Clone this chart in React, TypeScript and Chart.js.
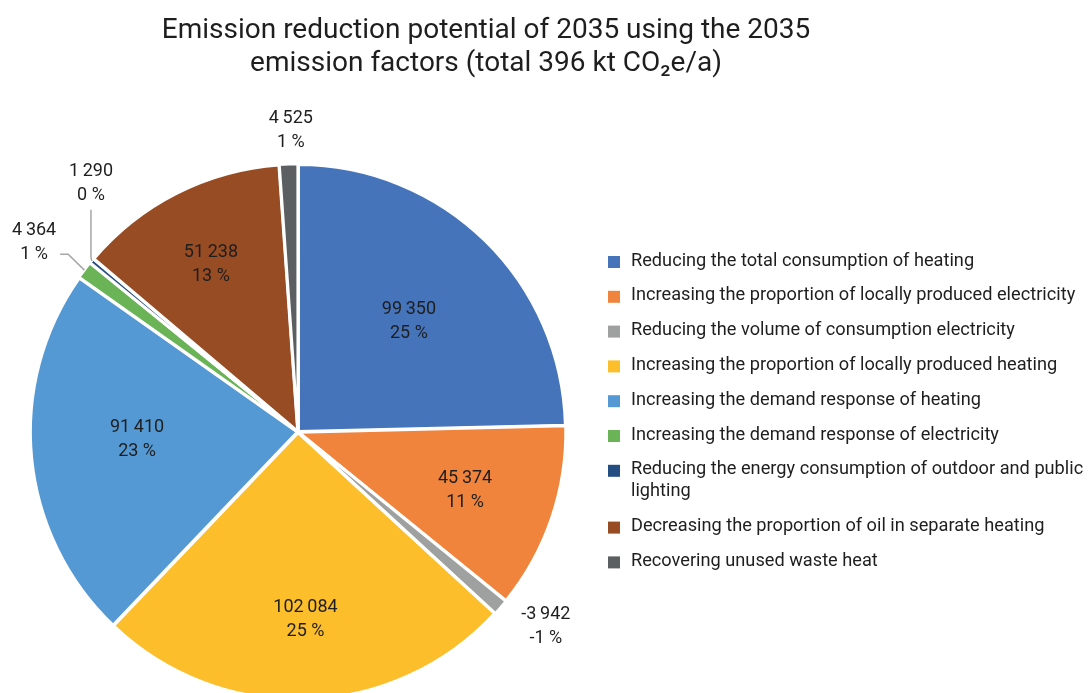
import React, { useEffect, useRef } from 'react';
import { Chart, registerables } from 'chart.js';

Chart.register(...registerables);

// ---------- data ----------
const titleLines = [
  'Emission reduction potential of 2035 using the 2035',
  'emission factors (total 396 kt CO\u2082e/a)',
];

const categories = [
  'Reducing the total consumption of heating',
  'Increasing the proportion of locally produced electricity',
  'Reducing the volume of consumption electricity',
  'Increasing the proportion of locally produced heating',
  'Increasing the demand response of heating',
  'Increasing the demand response of electricity',
  'Reducing the energy consumption of outdoor and public lighting',
  'Decreasing the proportion of oil in separate heating',
  'Recovering unused waste heat',
];

const values = [99350, 45374, -3942, 102084, 91410, 4364, 1290, 51238, 4525];

const colors = [
  '#4674BA',
  '#F0843C',
  '#9FA1A1',
  '#FDBE2C',
  '#5499D3',
  '#6AB356',
  '#244E82',
  '#984C24',
  '#5B5F61',
];

// label placement (fraction of radius, angle shift in degrees), leader style
const labelRadius = [0.577, 0.654, 1.18, 0.693, 0.594, 1.217, 1.211, 0.696, 1.13];
const labelAngleShift = [0.8, 0.5, -2.75, -0.45, 2.9, -1.45, 10.5, -0.65, 0.67];
const leaderType: (string | null)[] = [null, null, null, null, null, 'h', 'v', null, null];

// ---------- style ----------
const FONT = 'Roboto, "Noto Sans", sans-serif';
const TEXT = '#1E1E1E';
const OFFSET = 2.5;
const RADIUS = 267;

const fmtNum = (v: number) =>
  (v < 0 ? '-' : '') + Math.abs(v).toString().replace(/\B(?=(\d{3})+(?!\d))/g, '\u2009');

const annotate = {
  id: 'annotate',
  afterDatasetsDraw(chart: any) {
    const ctx = chart.ctx as CanvasRenderingContext2D;
    const meta = chart.getDatasetMeta(0);
    const absTotal = values.reduce((s, v) => s + Math.abs(v), 0);
    ctx.save();
    ctx.font = `18px ${FONT}`;
    ctx.textAlign = 'center';
    ctx.textBaseline = 'middle';
    meta.data.forEach((arc: any, i: number) => {
      const p = arc.getProps(['x', 'y', 'startAngle', 'endAngle', 'outerRadius'], true);
      const mid = (p.startAngle + p.endAngle) / 2;
      const ang = mid + (labelAngleShift[i] * Math.PI) / 180;
      const inside = labelRadius[i] < 1;
      const ox = inside ? Math.cos(mid) * OFFSET : 0;
      const oy = inside ? Math.sin(mid) * OFFSET : 0;
      const lx = p.x + ox + Math.cos(ang) * p.outerRadius * labelRadius[i];
      const ly = p.y + oy + Math.sin(ang) * p.outerRadius * labelRadius[i];
      const pct = Math.round((values[i] / absTotal) * 100);
      ctx.fillStyle = TEXT;
      ctx.fillText(fmtNum(values[i]), lx, ly - 12);
      ctx.fillText(`${pct} %`, lx, ly + 12);

      const lt = leaderType[i];
      if (lt) {
        const er = p.outerRadius + 1;
        const ex = p.x + Math.cos(mid) * er;
        const ey = p.y + Math.sin(mid) * er;
        ctx.strokeStyle = '#A6A6A6';
        ctx.lineWidth = 1.5;
        ctx.beginPath();
        if (lt === 'h') {
          const endX = lx + 26;
          const endY = ly + 12;
          ctx.moveTo(ex, ey);
          ctx.lineTo(endX + 8, endY);
          ctx.lineTo(endX, endY);
        } else {
          const endY = ly + 26;
          ctx.moveTo(ex, ey);
          ctx.lineTo(lx, ey - 3.5);
          ctx.lineTo(lx, endY);
        }
        ctx.stroke();
      }
    });
    ctx.restore();
  },
  afterDraw(chart: any) {
    const ctx = chart.ctx as CanvasRenderingContext2D;
    ctx.save();
    // title
    ctx.fillStyle = TEXT;
    ctx.font = `28px ${FONT}`;
    ctx.textAlign = 'center';
    ctx.textBaseline = 'middle';
    titleLines.forEach((t, k) => ctx.fillText(t, 486, 31 + k * 33));

    // legend
    ctx.font = `18.2px ${FONT}`;
    ctx.textAlign = 'left';
    const sqX = 608;
    const txX = 631;
    const maxW = 1088 - txX + 2;
    let y = 261;
    categories.forEach((c, i) => {
      const words = c.split(' ');
      const lines: string[] = [];
      let cur = '';
      words.forEach((w) => {
        const test = cur ? cur + ' ' + w : w;
        if (ctx.measureText(test).width > maxW && cur) {
          lines.push(cur);
          cur = w;
        } else cur = test;
      });
      lines.push(cur);
      ctx.fillStyle = colors[i];
      ctx.fillRect(sqX, y - 5, 12, 12);
      ctx.fillStyle = TEXT;
      lines.forEach((l, k) => ctx.fillText(l, txX, y + k * 22));
      y += 34.8 + (lines.length - 1) * 22;
    });
    ctx.restore();
  },
};

export default function App() {
  const ref = useRef<HTMLCanvasElement>(null);
  useEffect(() => {
    document.body.style.margin = '0';
    const chart = new Chart(ref.current as HTMLCanvasElement, {
      type: 'pie',
      data: {
        labels: categories,
        datasets: [
          {
            data: values,
            backgroundColor: colors,
            borderColor: '#FFFFFF',
            borderWidth: 3,
            offset: OFFSET,
            hoverOffset: 0,
          },
        ],
      },
      options: {
        animation: false,
        responsive: true,
        maintainAspectRatio: false,
        radius: RADIUS,
        events: [],
        layout: { padding: { left: 0, right: 492, top: 0, bottom: 0 } },
        plugins: {
          legend: { display: false },
          title: { display: false },
          tooltip: { enabled: false },
        },
      } as any,
      plugins: [annotate],
    });
    return () => chart.destroy();
  }, []);
  return (
    <div
      style={{
        position: 'fixed',
        left: 0,
        top: 0,
        width: 1088,
        height: 693,
        overflow: 'hidden',
        background: '#FFFFFF',
      }}
    >
      <div style={{ position: 'relative', width: 1088, height: 864 }}>
        <canvas ref={ref} />
      </div>
    </div>
  );
}
